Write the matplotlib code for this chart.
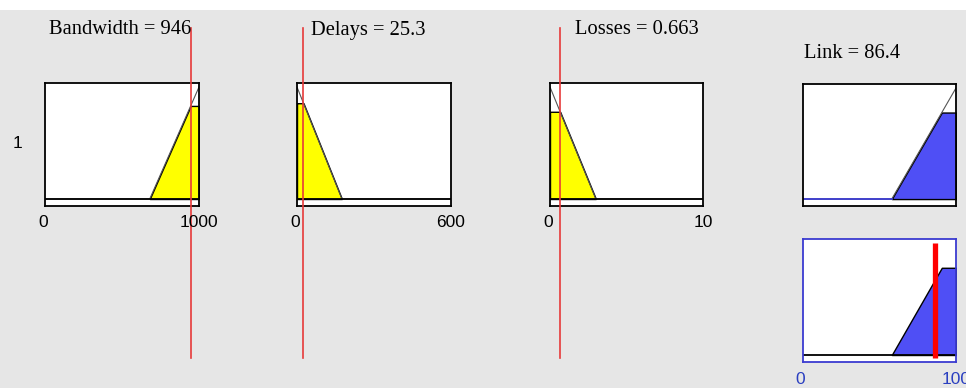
import numpy as np
import matplotlib.pyplot as plt
from matplotlib.transforms import blended_transform_factory

# inputs and output of the rule
names = ["Bandwidth", "Delays", "Losses"]
values = [946, 25.3, 0.663]
ranges = [(0, 1000), (0, 600), (0, 10)]
# membership function breakpoints (x, mu)
mf_x = [[680, 1000], [0, 175], [0, 3]]
mf_y = [[0, 1], [1, 0], [1, 0]]

out_name = "Link"
out_value = 86.4
out_range = (0, 100)
out_mf_x = [58, 100]
out_mf_y = [0, 1]

W, H = 966, 388
fig = plt.figure(figsize=(W / 100, H / 100), dpi=100, facecolor="#e6e6e6")
# white strip along the top
fig.patches.append(plt.Rectangle((0, 1 - 10 / H), 1, 10 / H, transform=fig.transFigure,
                                 facecolor="white", edgecolor="none", zorder=0))


def px_axes(x0, y0, x1, y1):
    return fig.add_axes([x0 / W, 1 - y1 / H, (x1 - x0) / W, (y1 - y0) / H])


def mf(x, bx, by):
    return np.interp(x, bx, by)


YLIM = (-0.0625, 1.036)
tick_font = dict(family="Liberation Sans", size=12.5)
title_font = dict(family="Liberation Serif", size=14.8)


def clean(ax, edge="black"):
    ax.set_ylim(*YLIM)
    ax.set_yticks([])
    ax.set_xticks([])
    for s in ax.spines.values():
        s.set_color(edge)
        s.set_linewidth(1.3)


# degree of fulfilment: AND = min
mus = [float(mf(v, bx, by)) for v, bx, by in zip(values, mf_x, mf_y)]
fire = min(mus)

boxes = [(45, 199), (297, 451), (550, 703)]
title_x = [120, 368, 637]
for i in range(3):
    lo, hi = ranges[i]
    ax = px_axes(boxes[i][0], 83, boxes[i][1], 206)
    clean(ax)
    ax.set_xlim(lo, hi)
    xs = np.linspace(lo, hi, 1001)
    full = mf(xs, mf_x[i], mf_y[i])
    cut = np.minimum(full, mus[i])
    ax.plot(xs, full, color="#555555", lw=0.8)
    ax.fill_between(xs, 0, cut, where=full > 0, facecolor="yellow", edgecolor="black", lw=1.0)
    ax.axhline(0, color="black", lw=1.3)
    # input value marker running through the whole rule row
    tr = blended_transform_factory(ax.transData, fig.transFigure)
    ax.plot([values[i], values[i]], [1 - 28 / H, 1 - 358 / H], color="#e63a3a", lw=1.2,
            transform=tr, clip_on=False, zorder=5)
    fig.text((boxes[i][0] - 2) / W, 1 - 223 / H, f"{lo:g}", ha="center", va="center", **tick_font)
    fig.text(boxes[i][1] / W, 1 - 223 / H, f"{hi:g}", ha="center", va="center", **tick_font)
    fig.text(title_x[i] / W, 1 - 30 / H, f"{names[i]} = {values[i]:g}", ha="center",
             va="center", **title_font)

fig.text(17 / W, 1 - 143 / H, "1", ha="center", va="center", **tick_font)

# consequent of the rule
ax = px_axes(803, 84, 956, 206)
clean(ax)
ax.set_xlim(*out_range)
xs = np.linspace(out_range[0], out_range[1], 1001)
full = mf(xs, out_mf_x, out_mf_y)
cut = np.minimum(full, fire)
ax.plot(xs, full, color="#555555", lw=0.8)
ax.fill_between(xs, 0, cut, where=full > 0, facecolor="#4f4ff5", edgecolor="black", lw=1.0)
ax.plot([out_range[0], out_mf_x[0]], [0, 0], color="#3b3bd0", lw=1.3)
fig.text(852 / W, 1 - 53 / H, f"{out_name} = {out_value:g}", ha="center", va="center",
         **title_font)

# aggregated output and defuzzified value
ax = px_axes(803, 239, 956, 362)
clean(ax, edge="#3b3bd0")
ax.set_xlim(*out_range)
ax.fill_between(xs, 0, cut, where=full > 0, facecolor="#4f4ff5", edgecolor="black", lw=1.0)
ax.axhline(0, color="black", lw=1.3)
ax.plot([out_value, out_value], [-0.03, 1.0], color="red", lw=3.8, solid_capstyle="butt")
fig.text(800 / W, 1 - 380 / H, f"{out_range[0]:g}", ha="center", va="center",
         color="#2a3fc0", **tick_font)
fig.text(956 / W, 1 - 380 / H, f"{out_range[1]:g}", ha="center", va="center",
         color="#2a3fc0", **tick_font)

fig.savefig("out.png", dpi=100, facecolor=fig.get_facecolor())
